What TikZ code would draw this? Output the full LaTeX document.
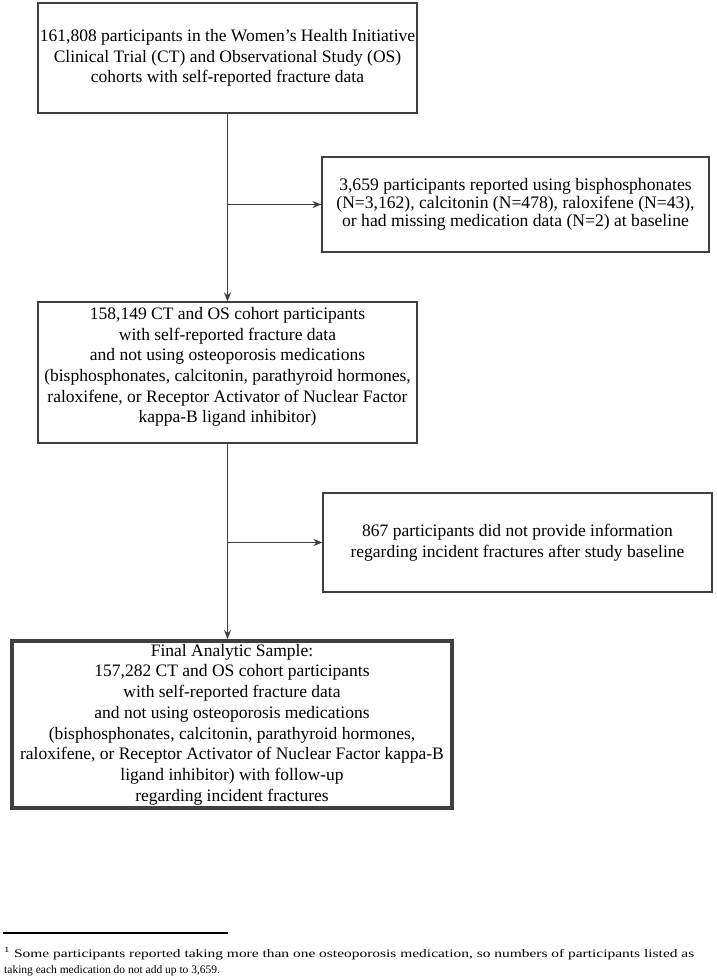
\documentclass[tikz,border=0pt]{standalone}
\usepackage{fontspec}
\setmainfont{Liberation Serif}
\usetikzlibrary{arrows.meta}
\begin{document}
\begin{tikzpicture}[x=1pt,y=-1pt,
  box/.style={draw=black!75, line width=1.2pt, rectangle, inner sep=0pt, align=center, text=black},
  bigfont/.style={font=\fontsize{17.5}{20.6}\selectfont},
  tightfont/.style={font=\fontsize{17.6}{17.8}\selectfont},
  conn/.style={draw=black!75, line width=1.2pt},
  arr/.style={conn, -{Stealth[length=9pt,width=7pt]}}]
\useasboundingbox (0,0) rectangle (716,978);
\fill[white] (0,0) rectangle (716,978);
\node[box, bigfont, minimum width=379pt, minimum height=110pt] (b1) at (227.5,58)
  {161,808 participants in the Women's Health Initiative\\Clinical Trial (CT) and Observational Study (OS)\\cohorts with self-reported fracture data};
\node[box, tightfont, minimum width=387pt, minimum height=95pt] (b2) at (515.5,204.5)
  {3,659 participants reported using bisphosphonates\\(N=3,162), calcitonin (N=478), raloxifene (N=43),\\or had missing medication data (N=2) at baseline};
\node[box, minimum width=379pt, minimum height=141pt] (b3) at (227.5,372.5) {};
\node[bigfont, align=center, inner sep=0pt] (t3) at (227.5,367)
  {158,149 CT and OS cohort participants\\with self-reported fracture data\\and not using osteoporosis medications\\(bisphosphonates, calcitonin, parathyroid hormones,\\raloxifene, or Receptor Activator of Nuclear Factor\\kappa-B ligand inhibitor)};
\node[box, bigfont, minimum width=389pt, minimum height=99pt] (b4) at (517.5,542.5)
  {867 participants did not provide information\\regarding incident fractures after study baseline};
\node[box, line width=3.8pt, minimum width=440pt, minimum height=167pt] (b5) at (232,724.5) {};
\node[font=\fontsize{17.5}{20.7}\selectfont, align=center, inner sep=0pt] (t5) at (232,724.5)
  {Final Analytic Sample:\\157,282 CT and OS cohort participants\\with self-reported fracture data\\and not using osteoporosis medications\\(bisphosphonates, calcitonin, parathyroid hormones,\\raloxifene, or Receptor Activator of Nuclear Factor kappa-B\\ligand inhibitor) with follow-up\\regarding incident fractures};
\coordinate (j1) at (b1.south |- b2.west);
\coordinate (j2) at (b3.south |- b4.west);
\draw[arr] (b1.south) -- (b3.north);
\draw[arr] (j1) -- (b2.west);
\draw[arr] (b3.south) -- (b3.south |- b5.north);
\draw[arr] (j2) -- (b4.west);
\coordinate (r1) at (3,933);
\coordinate (r2) at (228,933);
\draw[line width=2pt, black] (r1) -- (r2);
\node[anchor=base west, inner sep=0pt, font=\fontsize{11.5}{14}\selectfont] (f1) at (4,957)
  {\resizebox{690pt}{\height}{\textsuperscript{1} Some participants reported taking more than one osteoporosis medication, so numbers of participants listed as}};
\node[anchor=base west, inner sep=0pt, font=\fontsize{11.5}{14}\selectfont] (f2) at (4,973)
  {taking each medication do not add up to 3,659.};
\end{tikzpicture}
\end{document}
